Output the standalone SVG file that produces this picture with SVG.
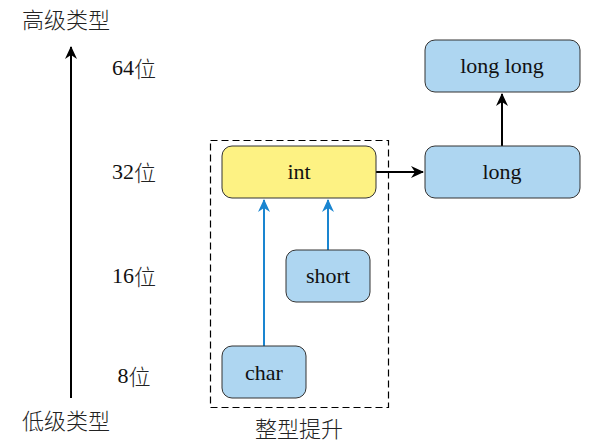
<svg xmlns="http://www.w3.org/2000/svg" width="594" height="447" viewBox="0 0 594 447">
<style>
.t{font-family:"Liberation Serif","DejaVu Serif","Noto Sans CJK SC",serif;font-size:22px;fill:#111;text-anchor:middle;dominant-baseline:central}
.cn{font-family:"Noto Sans CJK SC",sans-serif;font-size:22px;font-weight:300;fill:#222;text-anchor:middle;dominant-baseline:central}
.b{fill:#AED6F1;stroke:#333;stroke-width:1}
.y{fill:#FDF283;stroke:#333;stroke-width:1}
.k{stroke:#000;stroke-width:2;fill:none}
.bl{stroke:#1A85D0;stroke-width:2;fill:none}
</style>
<defs>
<marker id="ak" markerWidth="14" markerHeight="12" refX="12" refY="6" orient="auto" markerUnits="userSpaceOnUse"><path d="M0,0 L13,6 L0,12 L4,6 Z" fill="#000"/></marker>
<marker id="ab" markerWidth="14" markerHeight="12" refX="12" refY="6" orient="auto" markerUnits="userSpaceOnUse"><path d="M0,0 L13,6 L0,12 L4,6 Z" fill="#1A85D0"/></marker>
</defs>
<g id="axis">
<line class="k" x1="71" y1="398" x2="71" y2="47" marker-end="url(#ak)"/>
<text class="cn" x="66" y="18">高级类型</text>
<text class="cn" x="66" y="419">低级类型</text>
</g>
<g id="levels">
<text class="t" x="134" y="67">64<tspan class="cn">位</tspan></text>
<text class="t" x="134" y="171">32<tspan class="cn">位</tspan></text>
<text class="t" x="134" y="275">16<tspan class="cn">位</tspan></text>
<text class="t" x="134" y="375">8<tspan class="cn">位</tspan></text>
</g>
<g id="promotion">
<rect x="210.5" y="140.5" width="178" height="267" fill="none" stroke="#000" stroke-width="1.2" stroke-dasharray="7,4"/>
<text class="cn" x="299" y="427">整型提升</text>
</g>
<g id="connectors">
<line class="bl" x1="264" y1="346" x2="264" y2="200" marker-end="url(#ab)"/>
<line class="bl" x1="328" y1="250" x2="328" y2="200" marker-end="url(#ab)"/>
<line class="k" x1="376" y1="172" x2="423" y2="172" marker-end="url(#ak)"/>
<line class="k" x1="502" y1="146" x2="502" y2="94" marker-end="url(#ak)"/>
</g>
<g id="int"><rect class="y" x="222" y="146" width="154" height="52" rx="10"/><text class="t" x="299" y="171">int</text></g>
<g id="short"><rect class="b" x="286" y="250" width="84" height="52" rx="10"/><text class="t" x="328" y="275">short</text></g>
<g id="char"><rect class="b" x="222" y="346" width="84" height="52" rx="10"/><text class="t" x="264" y="372">char</text></g>
<g id="long"><rect class="b" x="425" y="146" width="155" height="52" rx="10"/><text class="t" x="502" y="171">long</text></g>
<g id="longlong"><rect class="b" x="425" y="40" width="155" height="52" rx="10"/><text class="t" x="502" y="65">long long</text></g>
</svg>
